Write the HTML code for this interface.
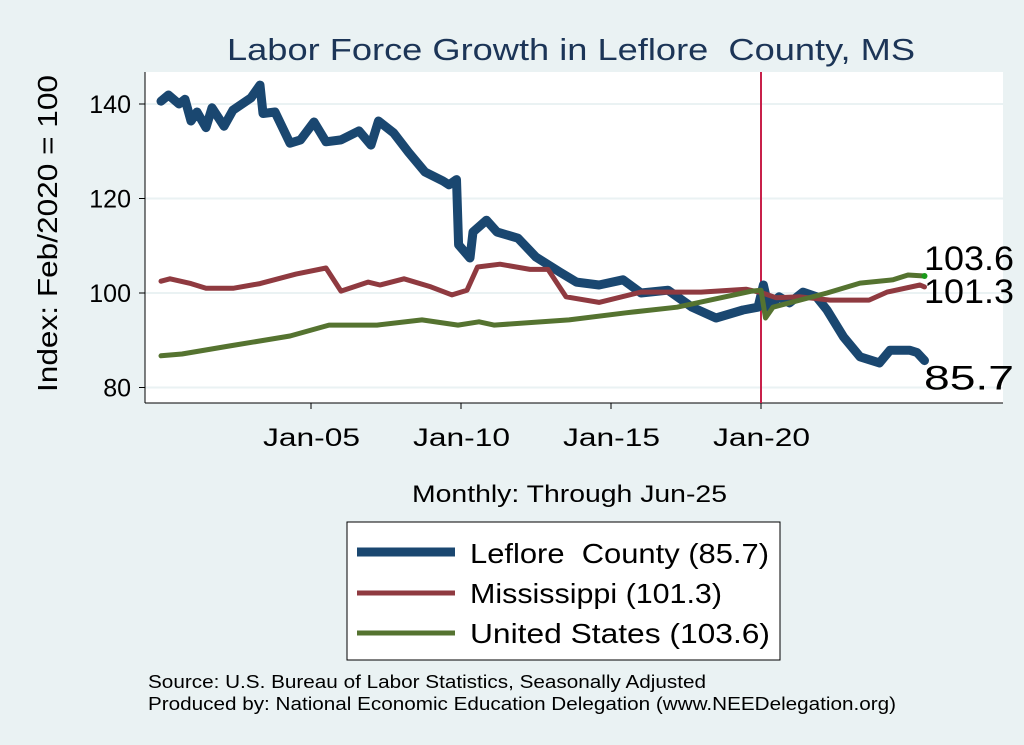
<!DOCTYPE html>
<html><head><meta charset="utf-8"><style>
body{margin:0;background:#eaf2f3;}
svg{display:block;font-family:"Liberation Sans",sans-serif;}
text{white-space:pre;}
</style></head><body>
<svg id="c" width="1024" height="745">
<rect x="0" y="0" width="1024" height="745" fill="#eaf2f3"/>
<rect x="145" y="72" width="858" height="331" fill="#ffffff"/>
<text x="227" y="60" font-size="31" textLength="688" lengthAdjust="spacingAndGlyphs" fill="#1c3557">Labor Force Growth in Leflore  County, MS</text>
<text transform="translate(57,392) rotate(-90)" font-size="28" textLength="317" lengthAdjust="spacingAndGlyphs" fill="#000">Index: Feb/2020 = 100</text>
<text x="412" y="502" font-size="24" textLength="315" lengthAdjust="spacingAndGlyphs" fill="#000">Monthly: Through Jun-25</text>
<g id="grid"></g><g id="axes"></g><g id="series"></g><g id="endlabels"></g>
<g>
<rect x="347" y="522" width="433" height="138" fill="#fff" stroke="#000" stroke-width="1"/>
<line x1="357" y1="552" x2="455" y2="552" stroke="#1a4770" stroke-width="9"/>
<text x="470" y="563" font-size="28" textLength="299" lengthAdjust="spacingAndGlyphs">Leflore  County (85.7)</text>
<line x1="357" y1="593" x2="455" y2="593" stroke="#8f3a40" stroke-width="5"/>
<text x="470" y="603" font-size="28" textLength="252" lengthAdjust="spacingAndGlyphs">Mississippi (101.3)</text>
<line x1="357" y1="633" x2="455" y2="633" stroke="#557330" stroke-width="5"/>
<text x="470" y="643" font-size="28" textLength="300" lengthAdjust="spacingAndGlyphs">United States (103.6)</text>
</g>
<text x="148" y="688" font-size="18" textLength="558" lengthAdjust="spacingAndGlyphs">Source: U.S. Bureau of Labor Statistics, Seasonally Adjusted</text>
<text x="148" y="710" font-size="18" textLength="748" lengthAdjust="spacingAndGlyphs">Produced by: National Economic Education Delegation (www.NEEDelegation.org)</text>
</svg>
<script>
const yTicks=[80,100,120,140];
const xTickYears=[2005,2010,2015,2020];
const xTickLabels=["Jan-05","Jan-10","Jan-15","Jan-20"];
const lefloreDates=[2000,2000.25,2000.6,2000.8,2001,2001.2,2001.5,2001.7,2002.1,2002.4,2003,2003.3,2003.4,2003.8,2004.3,2004.65,2005.1,2005.5,2006,2006.6,2007,2007.25,2007.75,2008.25,2008.8,2009.4,2009.6,2009.85,2009.92,2010.3,2010.4,2010.85,2011.2,2011.9,2012.5,2013.3,2013.85,2014.6,2015.4,2016,2016.9,2017.7,2018.5,2019.4,2019.9,2020.08,2020.25,2020.6,2020.95,2021.4,2021.85,2022.2,2022.75,2023.3,2023.95,2024.3,2024.95,2025.2,2025.45];
const lefloreValues=[140.6,141.9,140,141,136.4,138.3,135,139.2,135.3,138.7,141.3,144,138,138.3,131.7,132.4,136.2,132,132.4,134.3,131.3,136.4,133.9,129.8,125.6,123.7,122.9,124,110.2,107.4,112.9,115.4,112.9,111.6,107.6,104.4,102.3,101.7,102.8,100,100.6,97,94.7,96.4,97,101.7,97,99.2,97.9,100.2,99.2,96.4,90.7,86.5,85.2,87.9,87.9,87.4,85.7];
const msDates=[2000,2000.3,2001,2001.5,2002.4,2003.3,2004.5,2005.5,2006,2006.9,2007.3,2008.1,2009,2009.7,2010.2,2010.55,2011.3,2012.3,2012.9,2013.5,2014.6,2016,2018,2019.5,2020.05,2020.5,2021.3,2022.3,2023.6,2024.2,2025.3,2025.45];
const msValues=[102.5,103,102,101,101,102,104,105.3,100.4,102.3,101.7,103,101.3,99.6,100.6,105.5,106.1,105,105,99.2,98,100.2,100.2,100.8,100,99,99.2,98.5,98.5,100.2,101.7,101.3];
const usDates=[2000,2000.7,2002.3,2004.3,2005.6,2007.2,2008.7,2009.9,2010.6,2011.1,2013.6,2015.5,2017.2,2019.7,2020.0,2020.15,2020.4,2022.2,2023.3,2024.4,2024.9,2025.45];
const usValues=[86.7,87.1,88.8,90.9,93.2,93.2,94.3,93.2,93.9,93.2,94.3,95.8,97,100.4,100.6,94.7,97,100,102.1,102.8,103.8,103.6];
const NS='http://www.w3.org/2000/svg';
const xs=y=>161+(y-2000)*30;
const ys=v=>293-(v-100)*4.725;
function mk(tag,attrs,parent){const e=document.createElementNS(NS,tag);for(const k in attrs)e.setAttribute(k,attrs[k]);document.getElementById(parent).appendChild(e);return e;}
yTicks.forEach(t=>{
 const g=mk('line',{x1:145,x2:1003,y1:ys(t),y2:ys(t),stroke:'#eaf2f3','stroke-width':2},'grid');
 
 
 const tk=mk('line',{x1:139,x2:145,y1:ys(t),y2:ys(t),stroke:'#000'},'axes');
 
 
 const tx=mk('text',{x:131,y:ys(t)+9,'text-anchor':'end','font-size':25},'axes');
 tx.textContent=t;
 
 
});
const ya=mk('line',{x1:145,x2:145,y1:72,y2:403,stroke:'#000'},'axes');


const xa=mk('line',{x1:145,x2:1003,y1:403,y2:403,stroke:'#000'},'axes');


xTickYears.forEach((yr,i)=>{
 const tk=mk('line',{x1:xs(yr),x2:xs(yr),y1:403,y2:409,stroke:'#000'},'axes');
 
 
 const tx=mk('text',{x:xs(yr)-48,y:446,'font-size':25,textLength:97,lengthAdjust:'spacingAndGlyphs'},'axes');
 tx.textContent=xTickLabels[i];
 
 
});
const vl=mk('line',{x1:xs(2020),x2:xs(2020),y1:72,y2:403,stroke:'#c8204a','stroke-width':2},'series');


function series(d,v,color,w,name){
 const pts=d.map((x,i)=>xs(x).toFixed(1)+','+ys(v[i]).toFixed(1)).join(' ');
 const p=mk('polyline',{points:pts,fill:'none',stroke:color,'stroke-width':w,'stroke-linejoin':'round','stroke-linecap':'round'},'series');
 
 
}
series(lefloreDates,lefloreValues,'#1a4770',9,'line-leflore');
series(msDates,msValues,'#8f3a40',5,'line-mississippi');
series(usDates,usValues,'#557330',5,'line-us');
const dot=mk('circle',{cx:xs(usDates[usDates.length-1]),cy:ys(usValues[usValues.length-1]),r:3,fill:'#1a9a1a'},'series');


[[usValues,-6,'end-label-us'],[msValues,16,'end-label-mississippi'],[lefloreValues,29,'end-label-leflore']].forEach(([arr,dy,n])=>{
 const v=arr[arr.length-1];
 const t=mk('text',{x:924,y:ys(v)+dy,'font-size':34,textLength:90,lengthAdjust:'spacingAndGlyphs'},'endlabels');
 t.textContent=v.toFixed(1);
 
 
});
</script>
</body></html>
